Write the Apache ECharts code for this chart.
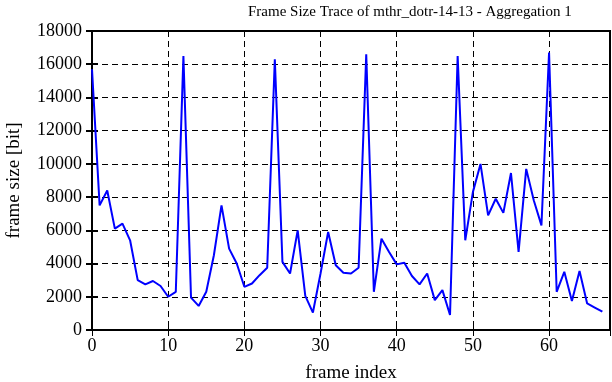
<!DOCTYPE html>
<html>
<head>
<meta charset="utf-8">
<script src="https://cdn.jsdelivr.net/npm/echarts@6/dist/echarts.min.js"></script>
<style>
html,body{margin:0;padding:0;background:#fff;}
#c{width:612px;height:382px;}
</style>
</head>
<body>
<div id="c"></div>
<script>
const titleText = 'Frame Size Trace of mthr_dotr-14-13 - Aggregation 1';
const xLabel = 'frame index';
const yLabel = 'frame size [bit]';
const frameIndex = [];
for (let i = 0; i < 68; i++) frameIndex.push(i);
const frameSize = [15700, 7500, 8400, 6100, 6400, 5400, 3000, 2750, 2950, 2650,
  2000, 2300, 16500, 1950, 1450, 2300, 4500, 7500, 4900, 4000,
  2600, 2800, 3300, 3750, 16300, 4100, 3400, 6000, 2050, 1050,
  3400, 5900, 3900, 3450, 3400, 3750, 16600, 2300, 5500, 4700,
  3950, 4050, 3250, 2750, 3400, 1800, 2400, 900, 16500, 5400,
  8300, 10000, 6900, 7900, 7050, 9450, 4700, 9700, 7800, 6300,
  16700, 2300, 3500, 1750, 3550, 1600, 1350, 1100];

const font = 'Liberation Serif';
const chart = echarts.init(document.getElementById('c'), null, {renderer: 'canvas'});
const dashed = {show: true, lineStyle: {color: '#000', type: [6, 4], width: 1}};
chart.setOption({
  animation: false,
  backgroundColor: '#fff',
  title: {
    text: titleText, left: 243, top: 0,
    textStyle: {fontFamily: font, fontSize: 15, fontWeight: 'normal', color: '#000'}
  },
  grid: {left: 92, right: 2, top: 31, bottom: 52, show: true, containLabel: false, outerBoundsMode: 'none',
    borderColor: '#000', borderWidth: 2, backgroundColor: 'transparent'},
  xAxis: [{
    type: 'value', min: 0, max: 68, interval: 10,
    name: xLabel, nameLocation: 'middle', nameGap: 34,
    nameTextStyle: {fontFamily: font, fontSize: 19, color: '#000'},
    axisLine: {show: false},
    axisTick: {show: true, inside: true, length: 6, lineStyle: {color: '#000', width: 1}},
    axisLabel: {fontFamily: font, fontSize: 18, color: '#000', margin: 7, showMaxLabel: false},
    splitLine: dashed
  }, {
    type: 'value', min: 0, max: 68, interval: 10, position: 'top',
    axisLine: {show: false}, axisLabel: {show: false}, splitLine: {show: false},
    axisTick: {show: true, inside: true, length: 6, lineStyle: {color: '#000', width: 1}}
  }],
  yAxis: [{
    type: 'value', min: 0, max: 18000, interval: 2000,
    name: yLabel, nameLocation: 'middle', nameGap: 68, nameRotate: 90,
    nameTextStyle: {fontFamily: font, fontSize: 19, color: '#000'},
    axisLine: {show: false},
    axisTick: {show: true, inside: true, length: 6, lineStyle: {color: '#000', width: 2}},
    axisLabel: {fontFamily: font, fontSize: 18, color: '#000', margin: 10, formatter: v => String(v)},
    splitLine: dashed
  }, {
    type: 'value', min: 0, max: 18000, interval: 2000, position: 'right',
    axisLine: {show: false}, axisLabel: {show: false}, splitLine: {show: false},
    axisTick: {show: true, inside: true, length: 6, lineStyle: {color: '#000', width: 2}}
  }],
  series: [{
    type: 'line',
    data: frameIndex.map((x, i) => [x, frameSize[i]]),
    showSymbol: false, symbol: 'none',
    lineStyle: {color: '#0000ff', width: 2},
    itemStyle: {color: '#0000ff'}
  }]
});
</script>
</body>
</html>
